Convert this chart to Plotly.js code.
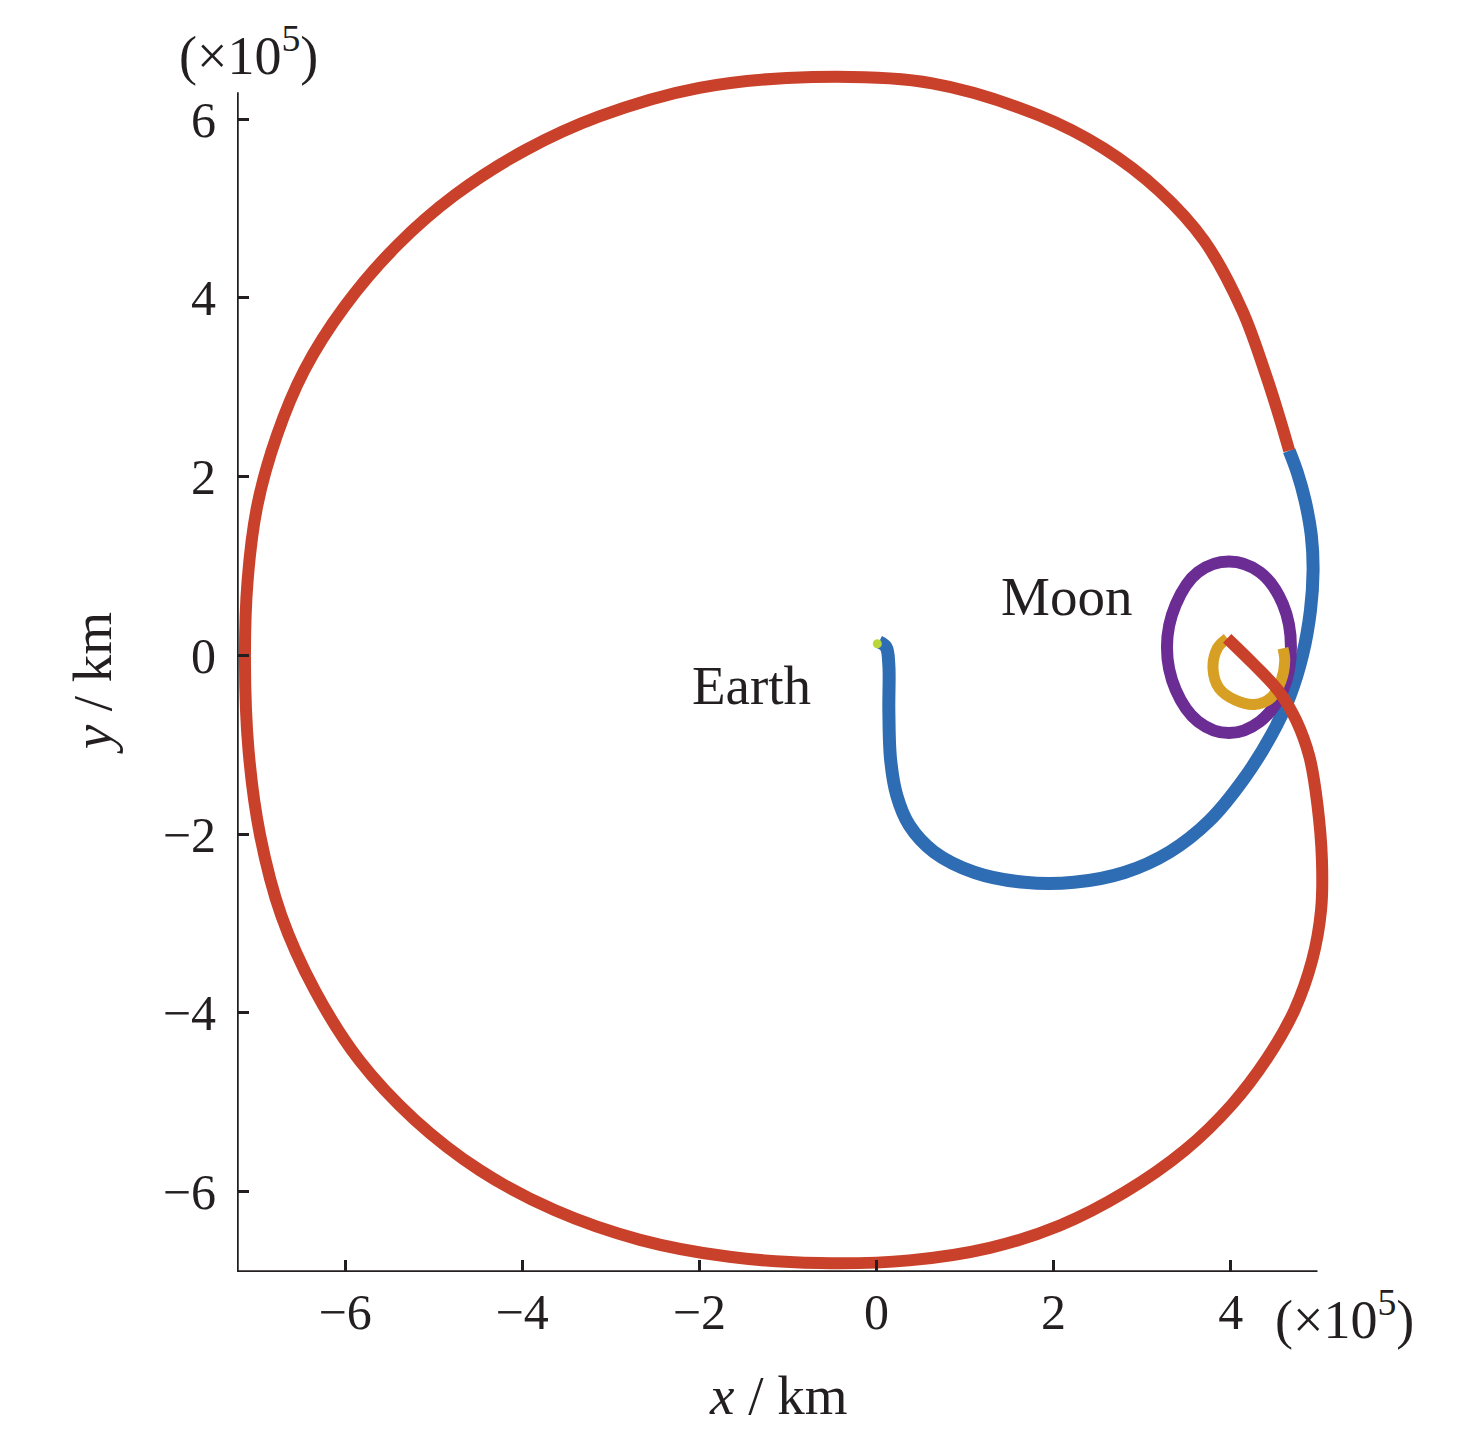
<!DOCTYPE html>
<html>
<head>
<meta charset="utf-8">
<script src="https://cdn.plot.ly/plotly-3.0.1.min.js"></script>
<style>html,body{margin:0;padding:0;background:#fff;}#chart{width:1476px;height:1429px;}</style>
</head>
<body>
<div id="chart"></div>
<script>
// Values in units of 10^5 km
const redX = [3.96,4.27,4.55,4.74,4.89,4.98,5.03,5.02,4.92,4.72,
              4.41,4.01,3.48,2.80,2.07,1.28,0.37,-0.64,-1.66,-2.67,
              -3.63,-4.48,-5.21,-5.84,-6.34,-6.72,-6.96,-7.09,-7.13,-7.10,
              -6.99,-6.77,-6.46,-6.00,-5.41,-4.76,-3.97,-3.13,-2.00,-0.72,
              0.63,1.84,2.57,3.19,3.70,4.13,4.41,4.56,4.66];
const redY = [0.19,-0.11,-0.41,-0.73,-1.14,-1.68,-2.29,-2.85,-3.41,-3.97,
              -4.51,-5.03,-5.54,-6.01,-6.38,-6.63,-6.77,-6.80,-6.73,-6.54,
              -6.21,-5.76,-5.20,-4.53,-3.75,-2.91,-2.01,-1.06,-0.06,0.84,
              1.68,2.46,3.19,3.91,4.59,5.15,5.65,6.03,6.35,6.47,
              6.40,6.04,5.67,5.20,4.64,3.86,3.10,2.63,2.29];

const blueX = [0.03,0.11,0.14,0.14,0.16,0.23,0.37,0.65,1.11,1.67,2.23,2.80,3.31,3.76,4.15,4.46,4.67,4.81,4.90,4.93,4.91,4.84,4.75,4.66];
const blueY = [0.15,0.09,-0.11,-0.62,-1.17,-1.57,-1.90,-2.20,-2.43,-2.54,-2.54,-2.43,-2.20,-1.85,-1.38,-0.89,-0.45,0.00,0.50,0.95,1.34,1.73,2.05,2.29];

const purpleX = [4.68,4.59,4.33,3.98,3.63,3.38,3.28,3.38,3.63,3.98,4.33,4.59,4.68];
const purpleY = [0.09,0.57,0.93,1.05,0.93,0.57,0.09,-0.39,-0.74,-0.87,-0.74,-0.39,0.09];

const yellowX = [3.96,3.85,3.80,3.87,4.05,4.27,4.46,4.57,4.61,4.59];
const yellowY = [0.19,0.08,-0.15,-0.37,-0.50,-0.55,-0.47,-0.28,-0.06,0.08];

const earthX = [0.01];
const earthY = [0.13];

const xTicks = [-6,-4,-2,0,2,4];
const xTickText = ['\u22126','\u22124','\u22122','0','2','4'];
const yTicks = [-6,-4,-2,0,2,4,6];
const yTickText = ['\u22126','\u22124','\u22122','0','2','4','6'];

const labels = [{text:'Earth', x:-1.41, y:-0.34},{text:'Moon', x:2.15, y:0.66}];

const axisEndX = 4.98;
const axisEndY = 6.30;
const xRange = [-7.22, 5.2];
const yRange = [-6.90, 6.65];

const FONT = '"Liberation Serif", "Times New Roman", serif';
const INK = '#231f20';

const traces = [
  {x: blueX, y: blueY, mode:'lines', line:{color:'#2e6db4', width:13, shape:'spline'}, hoverinfo:'skip'},
  {x: purpleX, y: purpleY, mode:'lines', line:{color:'#6b2c94', width:12, shape:'spline'}, hoverinfo:'skip'},
  {x: yellowX, y: yellowY, mode:'lines', line:{color:'#d7a024', width:11, shape:'spline'}, hoverinfo:'skip'},
  {x: redX, y: redY, mode:'lines', line:{color:'#c9412a', width:12, shape:'spline'}, hoverinfo:'skip'},
  {x: earthX, y: earthY, mode:'markers', marker:{color:'#b9d63a', size:9}, hoverinfo:'skip'}
];

const annotations = labels.map(l => ({text:l.text, x:l.x, y:l.y, xref:'x', yref:'y', showarrow:false, font:{family:FONT, size:55, color:INK}}));
annotations.push(
  {text:'<i>x</i> / km', xref:'paper', yref:'paper', x:0.492, y:-0.1016, xanchor:'center', yanchor:'middle', showarrow:false, font:{family:FONT, size:55, color:INK}},
  {text:'<i>y</i> / km', xref:'paper', yref:'paper', x:-0.131, y:0.486, xanchor:'center', yanchor:'middle', textangle:-90, showarrow:false, font:{family:FONT, size:55, color:INK}},
  {text:'(\u00d710<sup>5</sup>)', xref:'paper', yref:'paper', x:0.010, y:1.008, xanchor:'center', yanchor:'middle', showarrow:false, font:{family:FONT, size:54, color:INK}},
  {text:'(\u00d710<sup>5</sup>)', xref:'paper', yref:'paper', x:1.007, y:-0.036, xanchor:'center', yanchor:'middle', showarrow:false, font:{family:FONT, size:54, color:INK}}
);

const layout = {
  width:1476, height:1429,
  margin:{l:237, r:139, t:61, b:157},
  paper_bgcolor:'#fff', plot_bgcolor:'#fff',
  showlegend:false,
  xaxis:{range:xRange, tickvals:xTicks, ticktext:xTickText, ticks:'inside', ticklen:12, tickwidth:3, tickcolor:INK,
         showgrid:false, zeroline:false, showline:false, tickfont:{family:FONT, size:50, color:INK}, ticklabelstandoff:6},
  yaxis:{range:yRange, tickvals:yTicks, ticktext:yTickText, ticks:'inside', ticklen:12, tickwidth:3, tickcolor:INK,
         showgrid:false, zeroline:false, showline:false, tickfont:{family:FONT, size:50, color:INK}, ticklabelstandoff:20},
  shapes:[
    {type:'line', xref:'x', yref:'y', x0:xRange[0], x1:axisEndX, y0:yRange[0], y1:yRange[0], line:{color:INK, width:3.5}},
    {type:'line', xref:'x', yref:'y', x0:xRange[0], x1:xRange[0], y0:yRange[0], y1:axisEndY, line:{color:INK, width:3.5}}
  ],
  annotations:annotations
};

Plotly.newPlot('chart', traces, layout, {displayModeBar:false, staticPlot:true});
</script>
</body>
</html>
